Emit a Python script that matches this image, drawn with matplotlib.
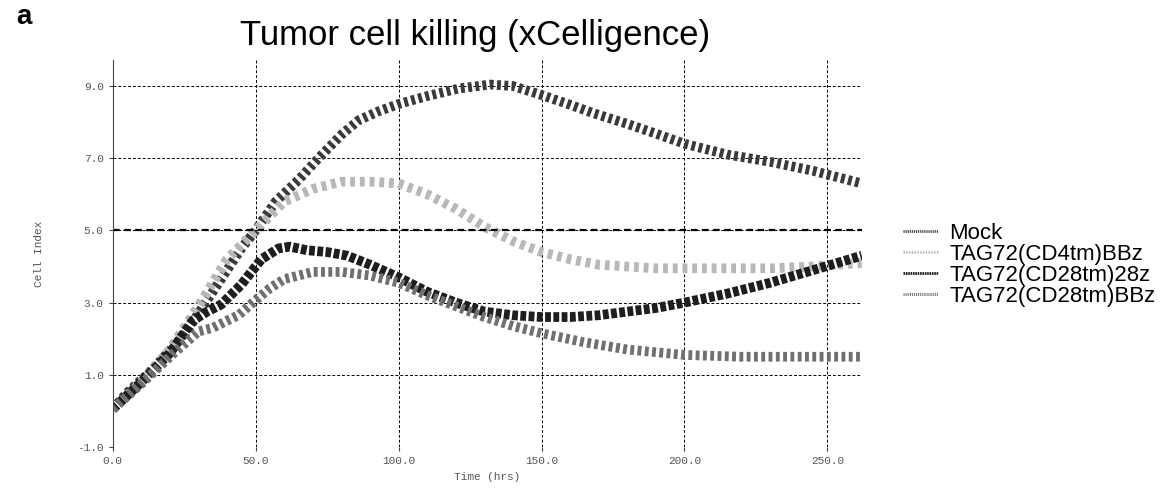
import matplotlib
matplotlib.use("Agg")
import matplotlib.pyplot as plt

# Time axis (hrs) and cell index readings per condition
mock_t = [0, 5, 12, 18, 25, 30, 35, 40, 45, 50, 57, 65, 72, 80, 86, 93, 100, 110, 121, 132,
          140, 150, 160, 168, 180, 190, 200, 215, 230, 245, 262]
mock_ci = [0.05, 0.5, 1.0, 1.5, 2.1, 2.7, 3.3, 3.9, 4.5, 5.0, 5.8, 6.4, 7.0, 7.65, 8.05, 8.3,
           8.5, 8.72, 8.93, 9.04, 9.0, 8.75, 8.48, 8.25, 7.95, 7.68, 7.4, 7.1, 6.9, 6.65, 6.3]

cd4bbz_t = [0, 10, 20, 30, 40, 50, 60, 70, 80, 90, 100, 110, 120, 130, 140, 150, 160, 170,
            180, 190, 200, 215, 230, 245, 262]
cd4bbz_ci = [0.05, 0.8, 1.7, 2.9, 4.2, 5.0, 5.8, 6.15, 6.35, 6.35, 6.3, 6.0, 5.6, 5.1, 4.7,
             4.4, 4.2, 4.05, 4.0, 3.95, 3.95, 3.95, 3.95, 4.0, 4.1]

cd28_28z_t = [0, 10, 20, 28, 33, 38, 45, 52, 58, 62, 68, 75, 82, 90, 100, 110, 120, 130, 140,
              150, 160, 170, 180, 190, 200, 215, 230, 245, 262]
cd28_28z_ci = [0.05, 0.8, 1.6, 2.5, 2.75, 2.95, 3.5, 4.2, 4.5, 4.55, 4.45, 4.4, 4.3, 4.05, 3.7,
               3.3, 3.0, 2.75, 2.65, 2.6, 2.6, 2.65, 2.75, 2.85, 3.0, 3.25, 3.55, 3.9, 4.3]

cd28bbz_t = [0, 10, 20, 30, 35, 40, 44, 49, 55, 60, 70, 80, 90, 100, 110, 120, 130, 140, 150,
             165, 180, 200, 220, 240, 262]
cd28bbz_ci = [0.05, 0.75, 1.5, 2.2, 2.3, 2.5, 2.65, 3.0, 3.4, 3.65, 3.85, 3.85, 3.75, 3.55,
              3.2, 2.9, 2.6, 2.35, 2.15, 1.9, 1.7, 1.55, 1.5, 1.5, 1.5]

labels = ['Mock', 'TAG72(CD4tm)BBz', 'TAG72(CD28tm)28z', 'TAG72(CD28tm)BBz']
x_ticks = [0, 50, 100, 150, 200, 250]
y_ticks = [-1, 1, 3, 5, 7, 9]

fig = plt.figure(figsize=(11.74, 5.0), dpi=100)
ax = fig.add_axes([0.096, 0.106, 0.638, 0.774])

# hatched look of the scanned traces: thick line made of tiny dashes
hatch = (0, (0.4, 0.35))
ax.plot(mock_t, mock_ci, color='#3a3a3a', lw=7, ls=hatch, label=labels[0])
ax.plot(cd4bbz_t, cd4bbz_ci, color='#b8b8b8', lw=7, ls=(0, (0.5, 0.5)), label=labels[1])
ax.plot(cd28_28z_t, cd28_28z_ci, color='#1e1e1e', lw=7, ls=(0, (0.6, 0.25)), label=labels[2])
ax.plot(cd28bbz_t, cd28bbz_ci, color='#707070', lw=7, ls=hatch, label=labels[3])

ax.set_xlim(0, 262)
ax.set_ylim(-1, 9.72)
ax.set_xticks(x_ticks)
ax.set_xticklabels([f'{v:.1f}' for v in x_ticks])
ax.set_yticks(y_ticks)
ax.set_yticklabels([f'{v:.1f}' for v in y_ticks])
ax.tick_params(length=3, labelsize=8, labelcolor='#555555', color='#444444')
for lab in ax.get_xticklabels() + ax.get_yticklabels():
    lab.set_family('Liberation Mono')

ax.grid(True, color='black', linestyle=(0, (3, 2)), linewidth=0.7)
# the middle horizontal line is printed heavier in the scan
ax.axhline(5, color='black', linestyle=(0, (3, 2)), linewidth=1.6)
for side in ['top', 'right', 'bottom']:
    ax.spines[side].set_visible(False)
ax.spines['left'].set_linestyle((0, (1, 1)))
ax.spines['left'].set_color('#444444')

ax.set_xlabel('Time (hrs)', fontsize=8, color='#555555', family='Liberation Mono', labelpad=4)
ax.set_ylabel('Cell Index', fontsize=8, color='#555555', family='Liberation Mono', labelpad=24)

fig.text(0.405, 0.93, 'Tumor cell killing (xCelligence)', fontsize=25, ha='center', va='center',
         family='Liberation Sans')
fig.text(0.014, 0.965, 'a', fontsize=20, fontweight='bold', ha='left', va='center',
         family='Liberation Sans')

leg = fig.legend(loc='center left', bbox_to_anchor=(0.752, 0.47), frameon=False,
                 labelspacing=0.0, handlelength=1.6, handletextpad=0.5,
                 prop={'family': 'Liberation Sans', 'size': 16})
for h in leg.get_lines():
    h.set_linewidth(2)

fig.savefig('out.png', dpi=100)
